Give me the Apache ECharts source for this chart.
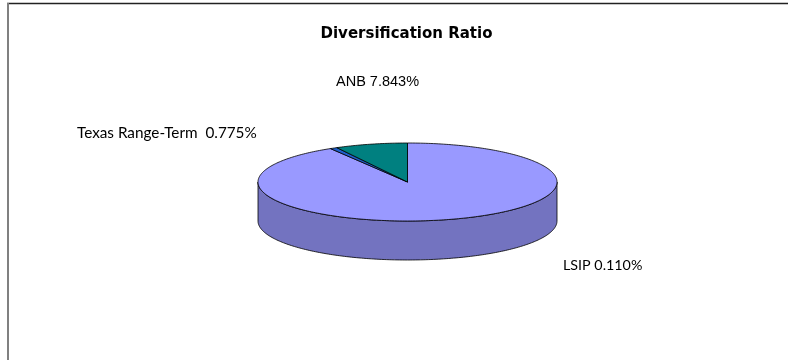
<!DOCTYPE html>
<html>
<head>
<meta charset="utf-8">
<script src="https://cdn.jsdelivr.net/npm/echarts@6/dist/echarts.min.js"></script>
<style>
html,body{margin:0;padding:0;background:#fff;}
#chart{width:788px;height:360px;}
</style>
</head>
<body>
<div id="chart"></div>
<script>
// ---- data ----
const titleText = 'Diversification Ratio';
const categories = ['LSIP', 'Texas Range-Term ', 'ANB'];
const shares = [91.382, 0.775, 7.843];          // slice sizes (percent of pie)
const labelValues = ['0.110%', '0.775%', '7.843%']; // label numbers as printed

// ---- styles / layout ----
const topColors = ['#9999FF', '#1F5FCC', '#008080'];
const sideColors = ['#7373C0', '#174a99', '#006060'];
const pie = { cx: 407.5, cy: 182, rx: 149.5, ry: 39, depth: 39 };
const labelLayout = [
  { x: 563, y: 265, font: 'Lato', size: 14.3 },
  { x: 77, y: 133, font: 'Lato', size: 15.3 },
  { x: 336, y: 82, font: 'Liberation Sans', size: 14.5 }
];

const total = shares.reduce((a, b) => a + b, 0);

function arcPts(t0, t1, dy) {
  const pts = [];
  const n = Math.max(2, Math.ceil((t1 - t0) / (Math.PI / 180)));
  for (let k = 0; k <= n; k++) {
    const t = t0 + (t1 - t0) * k / n;
    pts.push([pie.cx + pie.rx * Math.sin(t), pie.cy - pie.ry * Math.cos(t) + dy]);
  }
  return pts;
}

function renderItem(params, api) {
  const i = params.dataIndex;
  let before = 0;
  for (let j = 0; j < i; j++) before += shares[j];
  const v = api.value(0);
  const t0 = before / total * 2 * Math.PI;
  const t1 = (before + v) / total * 2 * Math.PI;
  const children = [];
  const a = Math.max(t0, Math.PI / 2), b = Math.min(t1, 3 * Math.PI / 2);
  if (b > a) {
    const up = arcPts(a, b, 0);
    const down = arcPts(a, b, pie.depth).reverse();
    children.push({
      type: 'polygon', z2: 1,
      shape: { points: up.concat(down) },
      style: { fill: sideColors[i], stroke: '#000', lineWidth: 0.8 }
    });
  }
  children.push({
    type: 'polygon', z2: 5,
    shape: { points: [[pie.cx, pie.cy]].concat(arcPts(t0, t1, 0)) },
    style: { fill: topColors[i], stroke: '#000', lineWidth: 0.8, lineJoin: 'miter' }
  });
  const L = labelLayout[i];
  children.push({
    type: 'text', z2: 10,
    style: {
      text: categories[i] + ' ' + labelValues[i],
      x: L.x, y: L.y, fill: '#000',
      fontFamily: L.font, fontSize: L.size,
      align: 'left', verticalAlign: 'middle'
    }
  });
  return { type: 'group', children: children };
}

const chart = echarts.init(document.getElementById('chart'), null, { renderer: 'canvas' });
chart.setOption({
  backgroundColor: '#fff',
  animation: false,
  title: {
    text: titleText, left: 401.5, top: 22, textAlign: 'center',
    textStyle: { fontFamily: 'DejaVu Sans', fontWeight: 'bold', fontSize: 15, color: '#000' }
  },
  graphic: [
    { type: 'line', shape: { x1: 7, y1: 3.5, x2: 788, y2: 3.5 }, style: { stroke: '#222', lineWidth: 1.5 } },
    { type: 'line', shape: { x1: 8, y1: 3, x2: 8, y2: 360 }, style: { stroke: '#808080', lineWidth: 2 } }
  ],
  series: [{
    type: 'custom',
    coordinateSystem: 'none',
    renderItem: renderItem,
    data: shares.map((s, i) => ({ name: categories[i], value: [s, i] }))
  }]
});
</script>
</body>
</html>
